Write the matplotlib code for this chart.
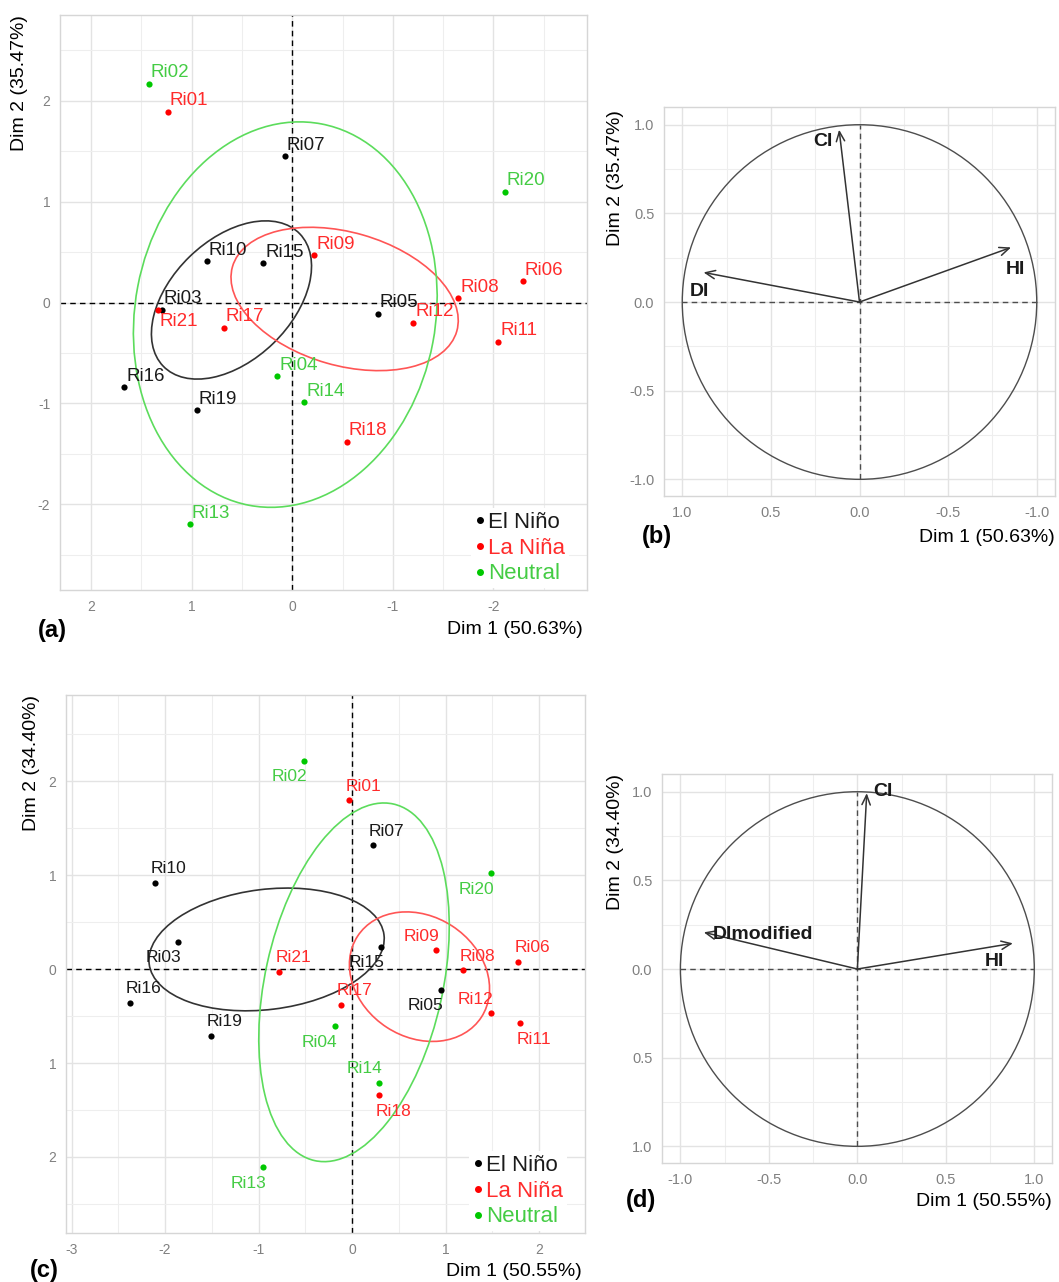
import matplotlib
matplotlib.use('Agg')
import matplotlib.pyplot as plt
from matplotlib.patches import Ellipse, Circle
from matplotlib.lines import Line2D

plt.rcParams['font.family'] = ['Liberation Sans', 'DejaVu Sans']

W, H, DPI = 1059, 1282, 100

# ---- data ----
sites = ['Ri01', 'Ri02', 'Ri03', 'Ri04', 'Ri05', 'Ri06', 'Ri07', 'Ri08', 'Ri09', 'Ri10', 'Ri11',
         'Ri12', 'Ri13', 'Ri14', 'Ri15', 'Ri16', 'Ri17', 'Ri18', 'Ri19', 'Ri20', 'Ri21']
phase = ['La Niña', 'Neutral', 'El Niño', 'Neutral', 'El Niño', 'La Niña', 'El Niño', 'La Niña',
         'La Niña', 'El Niño', 'La Niña', 'La Niña', 'Neutral', 'Neutral', 'El Niño', 'El Niño',
         'La Niña', 'La Niña', 'El Niño', 'Neutral', 'La Niña']
groups = ['El Niño', 'La Niña', 'Neutral']

# panel (a): individuals, original DI
dim1_a = [1.24, 1.43, 1.30, 0.15, -0.85, -2.29, 0.075, -1.65, -0.22, 0.85, -2.05,
          -1.20, 1.02, -0.12, 0.29, 1.67, 0.68, -0.54, 0.95, -2.11, 1.34]
dim2_a = [1.89, 2.17, -0.07, -0.73, -0.11, 0.21, 1.45, 0.04, 0.47, 0.41, -0.39,
          -0.20, -2.20, -0.99, 0.39, -0.84, -0.25, -1.38, -1.07, 1.10, -0.07]
side_a = ['ur'] * 20 + ['dr']

# panel (c): individuals, DI modified
dim1_c = [-0.03, -0.515, -1.86, -0.185, 0.95, 1.775, 0.22, 1.19, 0.90, -2.11, 1.79,
          1.48, -0.95, 0.29, 0.31, -2.38, -0.12, 0.29, -1.51, 1.49, -0.78]
dim2_c = [1.80, 2.22, 0.29, -0.61, -0.22, 0.08, 1.32, -0.01, 0.20, 0.92, -0.575,
          -0.47, -2.11, -1.21, 0.24, -0.36, -0.38, -1.345, -0.71, 1.02, -0.03]
side_c = ['ur', 'dl', 'dl', 'dl', 'dl', 'ur', 'ur', 'ur', 'ul', 'ur', 'dr',
          'ul', 'dl', 'ul', 'dl', 'ur', 'ur', 'dr', 'ur', 'dl', 'ur']

# group ellipses: centre x, centre y, semi-axis a, semi-axis b, angle of a (deg)
ell_a_cx = [0.605, -0.52, 0.07]
ell_a_cy = [0.025, 0.035, -0.12]
ell_a_ra = [0.944, 1.16, 1.924]
ell_a_rb = [0.598, 0.66, 1.493]
ell_a_ang = [-44, 16, 100.8]

ell_c_cx = [-0.915, 0.72, 0.02]
ell_c_cy = [0.21, -0.08, -0.14]
ell_c_ra = [1.265, 0.79, 1.945]
ell_c_rb = [0.64, 0.643, 0.95]
ell_c_ang = [7, -33, 77.5]

# variables (correlation circles)
vars_b = ['DI', 'CI', 'HI']
vx_b = [0.88, 0.115, -0.855]
vy_b = [0.167, 0.972, 0.308]
vars_d = ['DImodified', 'CI', 'HI']
vx_d = [-0.868, 0.053, 0.879]
vy_d = [0.207, 0.992, 0.145]

# ---- styles ----
pt_col = {'El Niño': '#000000', 'La Niña': '#FF0000', 'Neutral': '#00C800'}
txt_col = {'El Niño': '#1A1A1A', 'La Niña': '#FF2B2B', 'Neutral': '#44CC44'}
ell_col = {'El Niño': '#333333', 'La Niña': '#FF5555', 'Neutral': '#5CDC5C'}
GRID_MAJ = '#E3E3E3'
GRID_MIN = '#EEEEEE'
TICK_COL = '#808080'

fig = plt.figure(figsize=(W / DPI, H / DPI), dpi=DPI)


def px_axes(l, t, r, b):
    return fig.add_axes([l / W, 1 - b / H, (r - l) / W, (b - t) / H])


def fig_text(x, y, s, **kw):
    fig.text(x / W, 1 - y / H, s, **kw)


def style(ax, xt, xtl, xminor, yt, ytl, yminor, xlim, ylim, size):
    ax.set_xticks(xt)
    ax.set_xticklabels(xtl)
    ax.set_yticks(yt)
    ax.set_yticklabels(ytl)
    ax.set_xticks(xminor, minor=True)
    ax.set_yticks(yminor, minor=True)
    # limits after ticks, otherwise set_xticks widens the view
    ax.set_xlim(*xlim)
    ax.set_ylim(*ylim)
    ax.grid(True, which='major', color=GRID_MAJ, lw=1.0)
    ax.grid(True, which='minor', color=GRID_MIN, lw=0.8)
    ax.set_axisbelow(True)
    ax.tick_params(which='both', length=0, colors=TICK_COL, labelsize=size)
    ax.tick_params(axis='x', pad=7)
    ax.tick_params(axis='y', pad=7)
    for sp in ax.spines.values():
        sp.set_color('#D6D6D6')
        sp.set_linewidth(1.0)


OFFS_A = {'ur': (2, 11, 'left'), 'dr': (2, -12, 'left')}
OFFS_C = {'ur': (14, 14, 'center'), 'ul': (-15, 14, 'center'),
          'dr': (14, -16, 'center'), 'dl': (-15, -16, 'center')}


def individuals(ax, d1, d2, sides, offs, fs, cx, cy, ra, rb, ang, width_px):
    ax.axhline(0, color='black', lw=1, ls=(0, (4, 3)), zorder=1)
    ax.axvline(0, color='black', lw=1, ls=(0, (4, 3)), zorder=1)
    for i, g in enumerate(groups):
        ax.add_patch(Ellipse((cx[i], cy[i]), 2 * ra[i], 2 * rb[i], angle=ang[i],
                             fill=False, ec=ell_col[g], lw=1.2, zorder=2))
    for i, s in enumerate(sites):
        g = phase[i]
        ax.scatter(d1[i], d2[i], s=20, color=pt_col[g], zorder=3, lw=0)
        dx, dy, ha = offs[sides[i]]
        ax.annotate(s, (d1[i], d2[i]), xytext=(dx, dy), textcoords='offset pixels',
                    ha=ha, va='center', fontsize=fs, color=txt_col[g], zorder=4)
    handles = [Line2D([], [], ls='', marker='o', ms=4, color=pt_col[g]) for g in groups]
    leg = ax.legend(handles, groups, loc='lower right', fontsize=16, frameon=True,
                    bbox_to_anchor=(1 - 16 / width_px, 0.0),
                    framealpha=1, edgecolor='none', facecolor='white',
                    handlelength=0.5, handletextpad=0.15, labelspacing=0.22,
                    borderpad=0.15, borderaxespad=0.1)
    for t, g in zip(leg.get_texts(), groups):
        t.set_color(txt_col[g])
    leg.set_zorder(5)


def circle(ax, names, vx, vy, offs):
    ax.add_patch(Circle((0, 0), 1, fill=False, ec='#4D4D4D', lw=1.0, zorder=2))
    ax.plot([-1, 1], [0, 0], color='#4D4D4D', lw=1, ls=(0, (4, 3)), zorder=1)
    ax.plot([0, 0], [-1, 1], color='#4D4D4D', lw=1, ls=(0, (4, 3)), zorder=1)
    for n, x, y, (dx, dy) in zip(names, vx, vy, offs):
        ax.annotate('', xy=(x, y), xytext=(0, 0),
                    arrowprops=dict(arrowstyle='->,head_length=0.7,head_width=0.3',
                                    color='#333333', lw=1.1, shrinkA=0, shrinkB=0), zorder=3)
        ax.annotate(n, (x, y), xytext=(dx, dy), textcoords='offset pixels',
                    ha='center', va='center', fontsize=14, fontweight='bold',
                    color='#1A1A1A', zorder=4)


# ---- (a) ----
ax_a = px_axes(60, 15, 587, 590)
style(ax_a, [2, 1, 0, -1, -2], ['2', '1', '0', '-1', '-2'], [2.5, 1.5, 0.5, -0.5, -1.5, -2.5],
      [-2, -1, 0, 1, 2], ['-2', '-1', '0', '1', '2'], [-2.5, -1.5, -0.5, 0.5, 1.5, 2.5],
      (2.31, -2.93), (-2.85, 2.85), 10)
individuals(ax_a, dim1_a, dim2_a, side_a, OFFS_A, 13.5,
            ell_a_cx, ell_a_cy, ell_a_ra, ell_a_rb, ell_a_ang, 527)

# ---- (b) ----
ax_b = px_axes(664, 107, 1055, 496)
style(ax_b, [1, 0.5, 0, -0.5, -1], ['1.0', '0.5', '0.0', '-0.5', '-1.0'], [0.75, 0.25, -0.25, -0.75],
      [-1, -0.5, 0, 0.5, 1], ['-1.0', '-0.5', '0.0', '0.5', '1.0'], [-0.75, -0.25, 0.25, 0.75],
      (1.103, -1.103), (-1.094, 1.10), 10.5)
circle(ax_b, vars_b, vx_b, vy_b, [(-4, -19), (-16, -12), (4, -22)])

# ---- (c) ----
ax_c = px_axes(66, 695, 585, 1233)
style(ax_c, [-3, -2, -1, 0, 1, 2], ['-3', '-2', '-1', '0', '1', '2'], [-2.5, -1.5, -0.5, 0.5, 1.5],
      [-2, -1, 0, 1, 2], ['2', '1', '0', '1', '2'], [-2.5, -1.5, -0.5, 0.5, 1.5, 2.5],
      (-3.06, 2.49), (-2.81, 2.92), 10)
individuals(ax_c, dim1_c, dim2_c, side_c, OFFS_C, 12.5,
            ell_c_cx, ell_c_cy, ell_c_ra, ell_c_rb, ell_c_ang, 519)

# ---- (d) ----
ax_d = px_axes(662, 774, 1052, 1163)
style(ax_d, [-1, -0.5, 0, 0.5, 1], ['-1.0', '-0.5', '0.0', '0.5', '1.0'], [-0.75, -0.25, 0.25, 0.75],
      [-1, -0.5, 0, 0.5, 1], ['1.0', '0.5', '0.0', '0.5', '1.0'], [-0.75, -0.25, 0.25, 0.75],
      (-1.104, 1.10), (-1.094, 1.10), 10.5)
circle(ax_d, vars_d, vx_d, vy_d, [(59, -2), (16, 2), (-18, -18)])

# ---- axis titles and panel letters ----
fig_text(20, 15, 'Dim 2 (35.47%)', rotation=90, ha='center', va='top', fontsize=14)
fig_text(583, 630, 'Dim 1 (50.63%)', ha='right', va='center', fontsize=14)
fig_text(38, 630, '(a)', ha='left', va='center', fontsize=17, fontweight='bold')

fig_text(616, 110, 'Dim 2 (35.47%)', rotation=90, ha='center', va='top', fontsize=14)
fig_text(1055, 537, 'Dim 1 (50.63%)', ha='right', va='center', fontsize=14)
fig_text(642, 537, '(b)', ha='left', va='center', fontsize=17, fontweight='bold')

fig_text(32, 695, 'Dim 2 (34.40%)', rotation=90, ha='center', va='top', fontsize=14)
fig_text(582, 1271, 'Dim 1 (50.55%)', ha='right', va='center', fontsize=14)
fig_text(30, 1270, '(c)', ha='left', va='center', fontsize=17, fontweight='bold')

fig_text(616, 774, 'Dim 2 (34.40%)', rotation=90, ha='center', va='top', fontsize=14)
fig_text(1052, 1201, 'Dim 1 (50.55%)', ha='right', va='center', fontsize=14)
fig_text(626, 1200, '(d)', ha='left', va='center', fontsize=17, fontweight='bold')

fig.savefig('out.png', dpi=DPI)
